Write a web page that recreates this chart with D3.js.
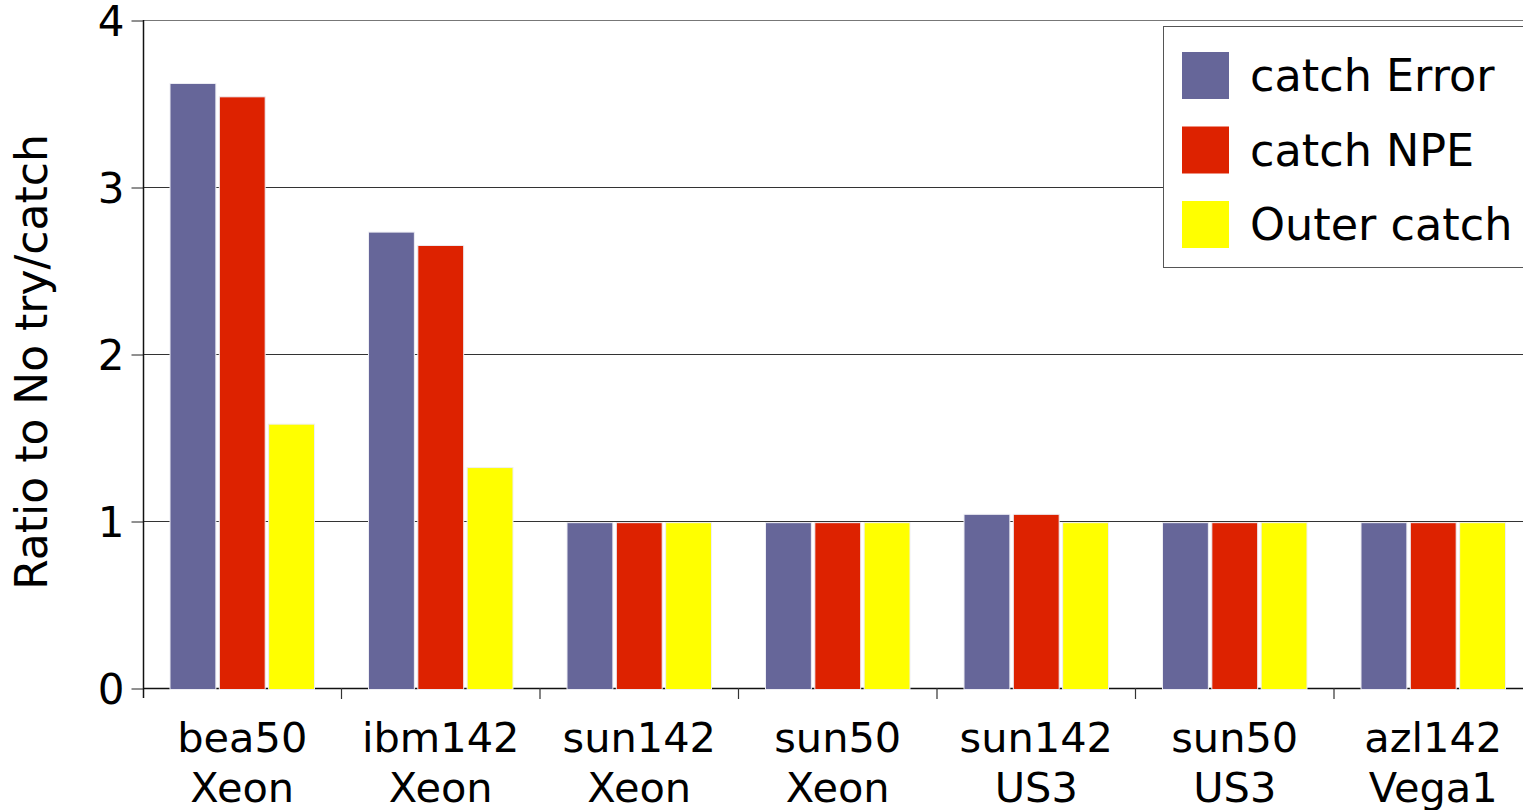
<!DOCTYPE html>
<html>
<head>
<meta charset="utf-8">
<script src="https://cdn.jsdelivr.net/npm/d3@7"></script>
<style>
  html, body { margin: 0; padding: 0; background: #fff; }
  svg { display: block; font-family: "DejaVu Sans", Verdana, sans-serif; }
</style>
</head>
<body>
<div id="chart"></div>
<script>
// ── Data ───────────────────────────────────────────────────────────────────
const categories  = ['bea50|Xeon', 'ibm142|Xeon', 'sun142|Xeon', 'sun50|Xeon', 'sun142|US3', 'sun50|US3', 'azl142|Vega1'];
const seriesNames = ['catch Error', 'catch NPE', 'Outer catch'];
const catchError  = [3.62, 2.73, 0.99, 0.99, 1.04, 0.99, 0.99];
const catchNPE    = [3.54, 2.65, 0.99, 0.99, 1.04, 0.99, 0.99];
const outerCatch  = [1.58, 1.32, 0.99, 0.99, 0.99, 0.99, 0.99];
const yTicks      = [0, 1, 2, 3, 4];

const COLORS = ['#666699', '#dd2200', '#ffff00'];
const series = [catchError, catchNPE, outerCatch];

const W = 1523, H = 810;
const margin = { top: 20, left: 143, bottom: 122 };
const groupW = 198.5;
const plotRight = margin.left + groupW * categories.length;
const y0 = H - margin.bottom; // 688

const svg = d3.select('#chart').append('svg')
  .attr('width', W).attr('height', H);

const x = d3.scaleBand()
  .domain(categories)
  .range([margin.left, plotRight])
  .paddingInner(0).paddingOuter(0);

const xs = d3.scaleBand()
  .domain(seriesNames)
  .range([27, x.bandwidth() - 27])
  .paddingInner(0.07);

const y = d3.scaleLinear().domain([0, 4]).range([y0, margin.top]);

// ── Grid lines ─────────────────────────────────────────────────────────────
svg.append('g').selectAll('line')
  .data(yTicks)
  .join('line')
  .attr('x1', margin.left).attr('x2', W)
  .attr('y1', d => y(d) + 0.5).attr('y2', d => y(d) + 0.5)
  .attr('stroke', d => d === 4 ? '#777' : (d === 0 ? '#111' : '#333'))
  .attr('stroke-width', d => d === 0 ? 1.5 : 1);

// ── Bars ───────────────────────────────────────────────────────────────────
const rows = categories.map((c, i) => ({ cat: c, vals: series.map(s => s[i]) }));

const groups = svg.append('g').selectAll('g')
  .data(rows)
  .join('g')
  .attr('transform', d => `translate(${x(d.cat)},0)`);

groups.selectAll('rect')
  .data(d => d.vals.map((v, k) => ({ v, k })))
  .join('rect')
  .attr('x', d => xs(seriesNames[d.k]))
  .attr('width', xs.bandwidth())
  .attr('y', d => y(d.v))
  .attr('height', d => y0 + 1.5 - y(d.v))
  .attr('fill', d => COLORS[d.k])
  .attr('stroke', '#eeeef4')
  .attr('stroke-width', 1);

// ── Axes ───────────────────────────────────────────────────────────────────
const yAxis = d3.axisLeft(y).tickValues(yTicks).tickSize(12).tickPadding(7).tickFormat(d3.format('d'));
const gy = svg.append('g')
  .attr('transform', `translate(${margin.left + 0.5},0.5)`)
  .call(yAxis);
gy.select('.domain').remove();
gy.selectAll('.tick line').attr('stroke', '#222');
gy.selectAll('.tick text')
  .attr('font-size', 42)
  .attr('fill', '#000')
  .attr('font-family', '"DejaVu Sans", Verdana, sans-serif')
  .attr('dy', '0.36em');

svg.append('line')
  .attr('x1', margin.left + 0.5).attr('x2', margin.left + 0.5)
  .attr('y1', margin.top).attr('y2', y0 + 10)
  .attr('stroke', '#111').attr('stroke-width', 1.5);

// group boundary ticks below the baseline
const bounds = d3.range(1, categories.length + 1).map(i => x(categories[0]) + i * x.step());
svg.append('g').selectAll('line')
  .data(bounds)
  .join('line')
  .attr('x1', d => d).attr('x2', d => d)
  .attr('y1', y0).attr('y2', y0 + 11)
  .attr('stroke', '#333').attr('stroke-width', 1.2);

// category labels, two lines
const labels = svg.append('g').selectAll('text')
  .data(categories)
  .join('text')
  .attr('x', d => x(d) + x.bandwidth() / 2)
  .attr('text-anchor', 'middle')
  .attr('font-size', 41.5)
  .attr('fill', '#000');
labels.append('tspan').attr('x', d => x(d) + x.bandwidth() / 2).attr('y', 752).text(d => d.split('|')[0]);
labels.append('tspan').attr('x', d => x(d) + x.bandwidth() / 2).attr('y', 802).text(d => d.split('|')[1]);

// y title
svg.append('text')
  .attr('transform', `translate(47,${362}) rotate(-90)`)
  .attr('text-anchor', 'middle')
  .attr('font-size', 44)
  .attr('fill', '#000')
  .text('Ratio to No try/catch');

// ── Legend ─────────────────────────────────────────────────────────────────
const legend = svg.append('g');
legend.append('rect')
  .attr('x', 1163.5).attr('y', 26.5)
  .attr('width', 380).attr('height', 241)
  .attr('fill', '#fff')
  .attr('stroke', '#555').attr('stroke-width', 1);

const items = legend.selectAll('g.item')
  .data(seriesNames)
  .join('g')
  .attr('class', 'item')
  .attr('transform', (d, i) => `translate(1182,${52 + i * 74.5})`);
items.append('rect')
  .attr('width', 47).attr('height', 47)
  .attr('fill', (d, i) => COLORS[i]);
items.append('text')
  .attr('x', 68).attr('y', 39)
  .attr('font-size', 44.5)
  .attr('fill', '#000')
  .text(d => d);
</script>
</body>
</html>
